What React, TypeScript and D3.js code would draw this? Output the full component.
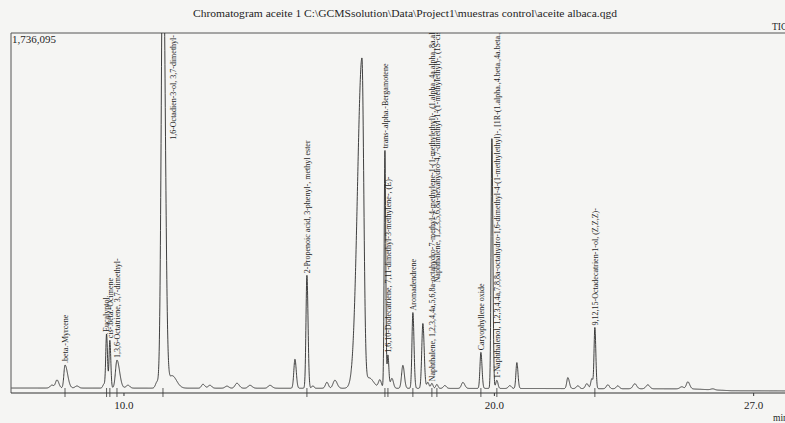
import React, { useMemo } from "react";
import * as d3 from "d3";

// ---- data ----
const TITLE = "Chromatogram aceite 1 C:\\GCMSsolution\\Data\\Project1\\muestras control\\aceite albaca.qgd";
const MAX_INTENSITY = 1736095;
const X_TICKS = [10.0, 20.0, 27.0];

// retention times (min), heights above baseline (counts), left / right widths (min)
const peakTimes = [8.057, 8.192, 8.408, 8.731, 9.46, 9.53, 9.619, 9.811, 10.108, 10.891, 11.053, 11.3, 12.132, 12.321, 12.78, 13.05, 13.401, 13.941, 14.616, 14.939, 15.101, 15.479, 15.695, 16.424, 16.62, 16.91, 17.045, 17.126, 17.234, 17.53, 17.8, 18.07, 18.205, 18.313, 18.448, 18.664, 19.15, 19.636, 19.933, 20.067, 20.418, 20.607, 21.984, 22.254, 22.497, 22.632, 22.713, 23.064, 23.333, 23.792, 24.143, 25.061, 25.223, 25.897];
const peakHeights = [14000, 39000, 111000, 10000, 19000, 260000, 230000, 135000, 14000, 29000, 2300000, 60000, 19000, 14000, 10000, 24000, 14000, 14000, 140000, 545000, 12000, 29000, 39000, 1591000, 50000, 39000, 1148000, 159000, 48000, 111000, 366000, 313000, 29000, 24000, 19000, 14000, 29000, 174000, 1206000, 39000, 14000, 125000, 53000, 14000, 24000, 48000, 294000, 19000, 14000, 24000, 19000, 10000, 34000, 5000];
const peakWidthL = [0.05, 0.04, 0.03, 0.05, 0.03, 0.022, 0.022, 0.04, 0.05, 0.04, 0.045, 0.08, 0.04, 0.05, 0.05, 0.05, 0.05, 0.05, 0.03, 0.025, 0.03, 0.04, 0.05, 0.12, 0.08, 0.04, 0.02, 0.02, 0.04, 0.035, 0.025, 0.03, 0.03, 0.03, 0.03, 0.04, 0.04, 0.025, 0.022, 0.03, 0.04, 0.025, 0.03, 0.04, 0.04, 0.03, 0.022, 0.04, 0.04, 0.05, 0.05, 0.05, 0.04, 0.05];
const peakWidthR = [0.05, 0.05, 0.07, 0.05, 0.03, 0.025, 0.025, 0.07, 0.05, 0.04, 0.06, 0.12, 0.05, 0.05, 0.05, 0.06, 0.06, 0.06, 0.035, 0.03, 0.03, 0.04, 0.06, 0.05, 0.12, 0.04, 0.022, 0.025, 0.04, 0.04, 0.03, 0.035, 0.03, 0.03, 0.03, 0.04, 0.05, 0.03, 0.026, 0.03, 0.04, 0.03, 0.04, 0.04, 0.04, 0.03, 0.026, 0.04, 0.04, 0.05, 0.05, 0.05, 0.05, 0.05];

// baseline drift (min, counts)
const baselineTimes = [6.95, 20.0, 25.3, 26.4, 27.9];
const baselineLevels = [24000, 22000, 20000, 11000, 10000];

// peak annotations
const labelTimes = [8.408, 9.53, 9.619, 9.811, 11.053, 14.939, 17.045, 17.126, 17.8, 18.313, 18.448, 19.636, 20.067, 22.713];
const labelTexts = [
  ".beta.-Myrcene",
  "Eucalyptol",
  "cis-.beta.-Ocimene",
  "1,3,6-Octatriene, 3,7-dimethyl-",
  "1,6-Octadien-3-ol, 3,7-dimethyl-",
  "2-Propenoic acid, 3-phenyl-, methyl ester",
  "trans-.alpha.-Bergamotene",
  "1,6,10-Dodecatriene, 7,11-dimethyl-3-methylene-, (E)-",
  "Aromadendrene",
  "Naphthalene, 1,2,3,4,4a,5,6,8a-octahydro-7-methyl-4-methylene-1-(1-methylethyl)-, (1.alpha.,4a.alpha.,8a.alpha.)-",
  "Naphthalene, 1,2,3,5,6,8a-hexahydro-4,7-dimethyl-1-(1-methylethyl)-, (1S-cis)-",
  "Caryophyllene oxide",
  "1-Naphthalenol, 1,2,3,4,4a,7,8,8a-octahydro-1,6-dimethyl-4-(1-methylethyl)-, [1R-(1.alpha.,4.beta.,4a.beta.,8a.beta.)]-",
  "9,12,15-Octadecatrien-1-ol, (Z,Z,Z)-",
];

// ---- layout ----
const W = 785;
const H = 423;
const PLOT = { left: 11, top: 33, right: 787, bottom: 393 };
const T_DOMAIN: [number, number] = [6.95, 27.9];
const LABEL_RAISE: Record<number, number> = { 10: 100 };
const FONT = "'Liberation Serif', 'Times New Roman', serif";
const INK = "#1e1e1e";

export default function App() {
  const x = d3.scaleLinear().domain(T_DOMAIN).range([PLOT.left, PLOT.right]);
  const y = d3.scaleLinear().domain([0, MAX_INTENSITY]).range([PLOT.bottom, PLOT.top]);
  const base = d3.scaleLinear().domain(baselineTimes).range(baselineLevels).clamp(true);

  const signal = (t: number) => {
    let v = base(t);
    for (let i = 0; i < peakTimes.length; i++) {
      const dt = t - peakTimes[i];
      const s = dt < 0 ? peakWidthL[i] : peakWidthR[i];
      if (Math.abs(dt) > 8 * s) continue;
      v += peakHeights[i] * Math.exp(-0.5 * (dt / s) * (dt / s));
    }
    return v;
  };

  const pathD = useMemo(() => {
    const pts: [number, number][] = [];
    const step = 0.003;
    for (let t = T_DOMAIN[0] + 0.01; t <= T_DOMAIN[1]; t += step) pts.push([t, signal(t)]);
    const line = d3.line<[number, number]>().x((d) => x(d[0])).y((d) => y(d[1]));
    return line(pts) || "";
  }, []);

  const labels = labelTimes.map((t, i) => {
    const top = y(signal(t));
    const clipped = top <= PLOT.top + 1;
    if (clipped) {
      return { key: i, x: x(t) + 13, y: PLOT.top + 2, anchor: "end", text: labelTexts[i], t };
    }
    return { key: i, x: x(t) + 2.7, y: top - 2 - (LABEL_RAISE[i] || 0), anchor: "start", text: labelTexts[i], t };
  });

  return (
    <svg
      width={W}
      height={H}
      style={{ position: "fixed", left: 0, top: 0, background: "#f5f5f3" }}
      fontFamily={FONT}
    >
      <defs>
        <clipPath id="plotClip">
          <rect x={PLOT.left} y={PLOT.top} width={PLOT.right - PLOT.left} height={PLOT.bottom - PLOT.top + 6} />
        </clipPath>
      </defs>
      <rect x={0} y={0} width={W} height={H} fill="#f5f5f3" />

      <text x={405} y={17} textAnchor="middle" fontSize={9.5} fill={INK} textLength={424} lengthAdjust="spacingAndGlyphs">
        {TITLE}
      </text>
      <text x={772} y={30} fontSize={9.5} fill={INK}>TIC</text>

      {/* frame */}
      <line x1={PLOT.left} x2={W} y1={PLOT.top} y2={PLOT.top} stroke="#555" strokeWidth={1} />
      <line x1={PLOT.left} x2={PLOT.left} y1={PLOT.top} y2={PLOT.bottom} stroke="#555" strokeWidth={1} />
      <line x1={PLOT.left} x2={W} y1={PLOT.bottom} y2={PLOT.bottom} stroke="#333" strokeWidth={1.2} />

      <text x={12} y={43} fontSize={11} fill={INK}>{d3.format(",")(MAX_INTENSITY)}</text>

      {/* x ticks */}
      {X_TICKS.map((t) => (
        <g key={t}>
          <line x1={x(t)} x2={x(t)} y1={PLOT.bottom} y2={PLOT.bottom + 3} stroke="#333" />
          <text x={x(t)} y={409} textAnchor="middle" fontSize={11} fill={INK}>{t.toFixed(1)}</text>
        </g>
      ))}
      <text x={773} y={421} fontSize={9.5} fill={INK}>min</text>

      <g clipPath="url(#plotClip)">
        <path d={pathD} fill="none" stroke="#2a2a2a" strokeWidth={0.9} />
        {labels.map((l) => (
          <g key={l.key}>
            <line x1={x(l.t)} x2={x(l.t)} y1={PLOT.bottom - 5} y2={PLOT.bottom + 4} stroke="#333" strokeWidth={0.8} />
            <text
              transform={`translate(${l.x},${l.y}) rotate(-90)`}
              textAnchor={l.anchor}
              fontSize={8}
              fill={INK}
            >
              {l.text}
            </text>
          </g>
        ))}
      </g>
    </svg>
  );
}
